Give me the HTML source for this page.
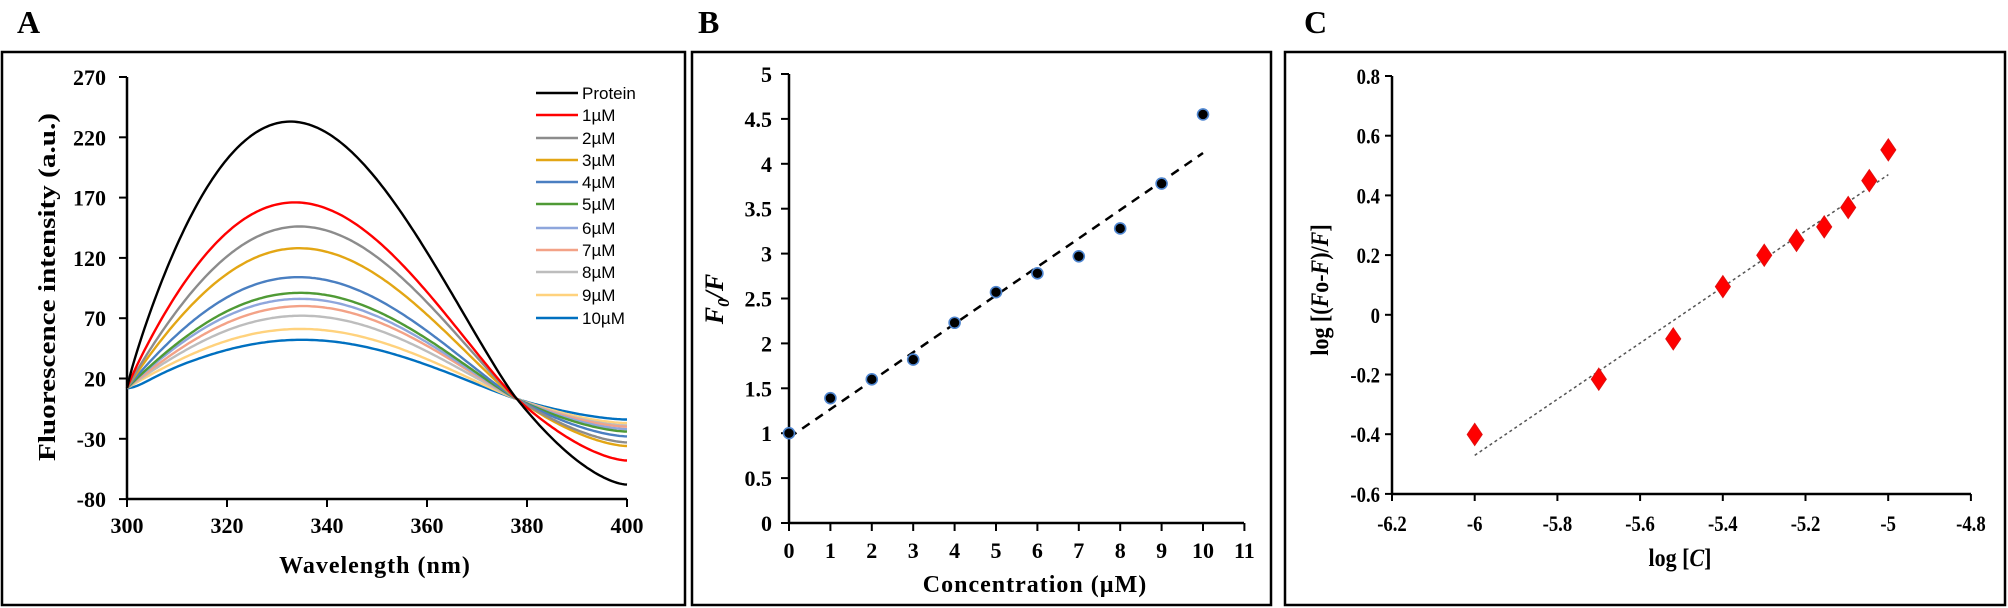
<!DOCTYPE html>
<html><head><meta charset="utf-8"><style>
html,body{margin:0;padding:0;background:#fff;}
svg{display:block;}
.t{font-family:"Liberation Serif",serif;font-weight:bold;fill:#000;}
.l{font-family:"Liberation Sans",sans-serif;fill:#000;font-size:17px;}
</style></head><body>
<svg id="s" width="2008" height="608" viewBox="0 0 2008 608" xmlns="http://www.w3.org/2000/svg">
<rect width="2008" height="608" fill="#fff"/>
<text class="t" x="17" y="33" font-size="32">A</text>
<text class="t" x="698" y="33" font-size="32">B</text>
<text class="t" x="1304" y="33" font-size="32">C</text>
<rect x="2" y="52" width="683" height="553" fill="none" stroke="#000" stroke-width="2.5"/>
<rect x="692" y="52" width="579" height="553" fill="none" stroke="#000" stroke-width="2.5"/>
<rect x="1285" y="52" width="720" height="553" fill="none" stroke="#000" stroke-width="2.5"/>
<g id="A"></g>
<g id="B"></g>
<g id="C"></g>
</svg>
<script>
var NS="http://www.w3.org/2000/svg";
function el(p,n,a,txt){var e=document.createElementNS(NS,n);for(var k in a)e.setAttribute(k,a[k]);if(txt!==undefined)e.textContent=txt;p.appendChild(e);return e;}
// ---------- Panel A ----------
var A=document.getElementById('A');
function ax(x){return 127+(x-300)*5;}
function ay(v){return 77+(270-v)*1.206;}
el(A,'line',{x1:127,y1:77,x2:127,y2:499,stroke:'#000','stroke-width':2.5});
el(A,'line',{x1:127,y1:499,x2:627,y2:499,stroke:'#000','stroke-width':2.5});
for(var v=270;v>=-80;v-=50){var y=ay(v);el(A,'line',{x1:119,y1:y,x2:127,y2:y,stroke:'#000','stroke-width':2});
 el(A,'text',{class:'t',x:106,y:y+8,'font-size':22,'text-anchor':'end'},String(v));}
for(var x=300;x<=400;x+=20){var px=ax(x);el(A,'line',{x1:px,y1:499,x2:px,y2:507,stroke:'#000','stroke-width':2});
 el(A,'text',{class:'t',x:px,y:533,'font-size':22,'text-anchor':'middle'},String(x));}
el(A,'text',{class:'t',x:375,y:573,'font-size':24,'text-anchor':'middle','letter-spacing':'1'},'Wavelength  (nm)');
el(A,'text',{class:'t',x:0,y:0,'font-size':24,'text-anchor':'middle',transform:'translate(55,287) rotate(-90)',textLength:348,lengthAdjust:'spacingAndGlyphs'},'Fluorescence intensity (a.u.)');
function base(x){return 12-9*(x-300)/78;}
function smoothstep(s){return s*s*(3-2*s);}
var curves=[
 ['Protein','#000000',233,-68,333],
 ['1µM','#ff0000',166,-48,334],
 ['2µM','#8c8c8c',146,-33,335],
 ['3µM','#e3a614',128,-36,335],
 ['4µM','#4a7fc1',104,-28,335],
 ['5µM','#4f9a35',91,-24,335.5],
 ['6µM','#8ea6dc',86,-22,335.5],
 ['7µM','#f3a287',80,-20,336],
 ['8µM','#bdbdbd',72,-19,336],
 ['9µM','#ffd27d',61,-17,336],
 ['10µM','#0070c0',52,-14,336.5]];
for(var c=curves.length-1;c>=0;c--){var cv=curves[c],d='';
 var tp=(cv[4]-300)/78, a=Math.log(0.5)/Math.log(tp), Aamp=cv[2]-base(cv[4]);
 var slope378=0; // slope of bump at 378 (t=1): derivative
 for(var x=300;x<=400;x+=0.5){var v;
  if(x<=378){var t=(x-300)/78; var tw=Math.pow(Math.max(t,1e-6),a); var s=Math.sin(Math.PI*tw); v=base(x)+Aamp*Math.pow(Math.max(s,0),1.1);
   if(c==10&&x<312){var u=(x-300); v-=7*Math.sin(Math.PI*Math.min(u/12,1))*Math.exp(-u/3);}}
  else{var s2=(x-378)/22; v=3+(cv[3]-3)*(1-Math.pow(1-s2,1.6));}
  d+=(d?'L':'M')+ax(x).toFixed(1)+','+ay(v).toFixed(1);}
 el(A,'path',{d:d,fill:'none',stroke:cv[1],'stroke-width':2.4,'stroke-linejoin':'round'});}
var ly=[93,115,138,160,182,204,228,250,272,295,318];
for(var i=0;i<11;i++){el(A,'line',{x1:536,y1:ly[i],x2:578,y2:ly[i],stroke:curves[i][1],'stroke-width':2.4});
 el(A,'text',{class:'l',x:582,y:ly[i]+6},curves[i][0]);}
// ---------- Panel B ----------
var B=document.getElementById('B');
function bxp(x){return 789+x*41.4;}
function byp(v){return 523-v*89.8;}
el(B,'line',{x1:789,y1:74,x2:789,y2:523,stroke:'#000','stroke-width':2.5});
el(B,'line',{x1:789,y1:523,x2:1244,y2:523,stroke:'#000','stroke-width':2.5});
for(var v=0;v<=5;v+=0.5){var y=byp(v);el(B,'line',{x1:781,y1:y,x2:789,y2:y,stroke:'#000','stroke-width':2});
 el(B,'text',{class:'t',x:772,y:y+8,'font-size':22,'text-anchor':'end'},String(v));}
for(var x=0;x<=11;x++){var px=bxp(x);el(B,'line',{x1:px,y1:523,x2:px,y2:531,stroke:'#000','stroke-width':2});
 el(B,'text',{class:'t',x:px,y:558,'font-size':22,'text-anchor':'middle'},String(x));}
el(B,'text',{class:'t',x:1035,y:592,'font-size':24,'text-anchor':'middle','letter-spacing':'1'},'Concentration (µM)');
var ft=el(B,'text',{class:'t',x:0,y:0,'font-size':26,'text-anchor':'middle','font-style':'italic',transform:'translate(723,299) rotate(-90)'});
ft.innerHTML='F<tspan font-size="17" dy="6">0</tspan><tspan dy="-6">/F</tspan>';
el(B,'line',{x1:bxp(0),y1:byp(0.95),x2:bxp(10),y2:byp(4.12),stroke:'#000','stroke-width':2.5,'stroke-dasharray':'9,7'});
var bd=[1,1.39,1.6,1.82,2.23,2.57,2.78,2.97,3.28,3.78,4.55];
for(var i=0;i<11;i++)el(B,'circle',{cx:bxp(i),cy:byp(bd[i]),r:5.5,fill:'#000',stroke:'#4f86d0','stroke-width':1.6});
// ---------- Panel C ----------
var C=document.getElementById('C');
function cx(x){return 1392+(x+6.2)*413.6;}
function cy(v){return 315-v*298.6;}
el(C,'line',{x1:1392,y1:76,x2:1392,y2:494,stroke:'#000','stroke-width':2.5});
el(C,'line',{x1:1392,y1:494,x2:1971,y2:494,stroke:'#000','stroke-width':2.5});
var yt=['0.8','0.6','0.4','0.2','0','-0.2','-0.4','-0.6'];
for(var i=0;i<8;i++){var y=76+i*59.7;el(C,'line',{x1:1385,y1:y,x2:1392,y2:y,stroke:'#000','stroke-width':2});
 el(C,'text',{class:'t',x:1380,y:y+8,'font-size':22,'text-anchor':'end',transform:'translate('+(1380*0.15)+',0) scale(0.85,1)'},yt[i]);}
var xt=['-6.2','-6','-5.8','-5.6','-5.4','-5.2','-5','-4.8'];
for(var i=0;i<8;i++){var px=1392+i*82.7;el(C,'line',{x1:px,y1:494,x2:px,y2:501,stroke:'#000','stroke-width':2});
 el(C,'text',{class:'t',x:px,y:531,'font-size':22,'text-anchor':'middle',transform:'translate('+(px*0.15)+',0) scale(0.85,1)'},xt[i]);}
var lc=el(C,'text',{class:'t',x:1680,y:566,'font-size':25,'text-anchor':'middle',transform:'translate('+(1680*0.12)+',0) scale(0.88,1)'});
lc.innerHTML='log [<tspan font-style="italic">C</tspan>]';
var lt=el(C,'text',{class:'t',x:0,y:0,'font-size':25,'text-anchor':'middle',transform:'translate(1328,290) rotate(-90) scale(0.88,1)'});
lt.innerHTML='log [(<tspan font-style="italic">F</tspan>o-<tspan font-style="italic">F</tspan>)/<tspan font-style="italic">F</tspan>]';
el(C,'line',{x1:cx(-6),y1:cy(-0.47),x2:cx(-5),y2:cy(0.47),stroke:'#555','stroke-width':1.5,'stroke-dasharray':'3,3'});
var cd=[[-6,-0.4],[-5.7,-0.215],[-5.52,-0.08],[-5.4,0.095],[-5.3,0.2],[-5.222,0.25],[-5.155,0.295],[-5.097,0.36],[-5.046,0.45],[-5,0.553]];
for(var i=0;i<cd.length;i++){var X=cx(cd[i][0]),Y=cy(cd[i][1]);
 el(C,'polygon',{points:X+','+(Y-11)+' '+(X+7.5)+','+Y+' '+X+','+(Y+11)+' '+(X-7.5)+','+Y,fill:'#ff0000',stroke:'#e01010','stroke-width':1});}
</script>
</body></html>
